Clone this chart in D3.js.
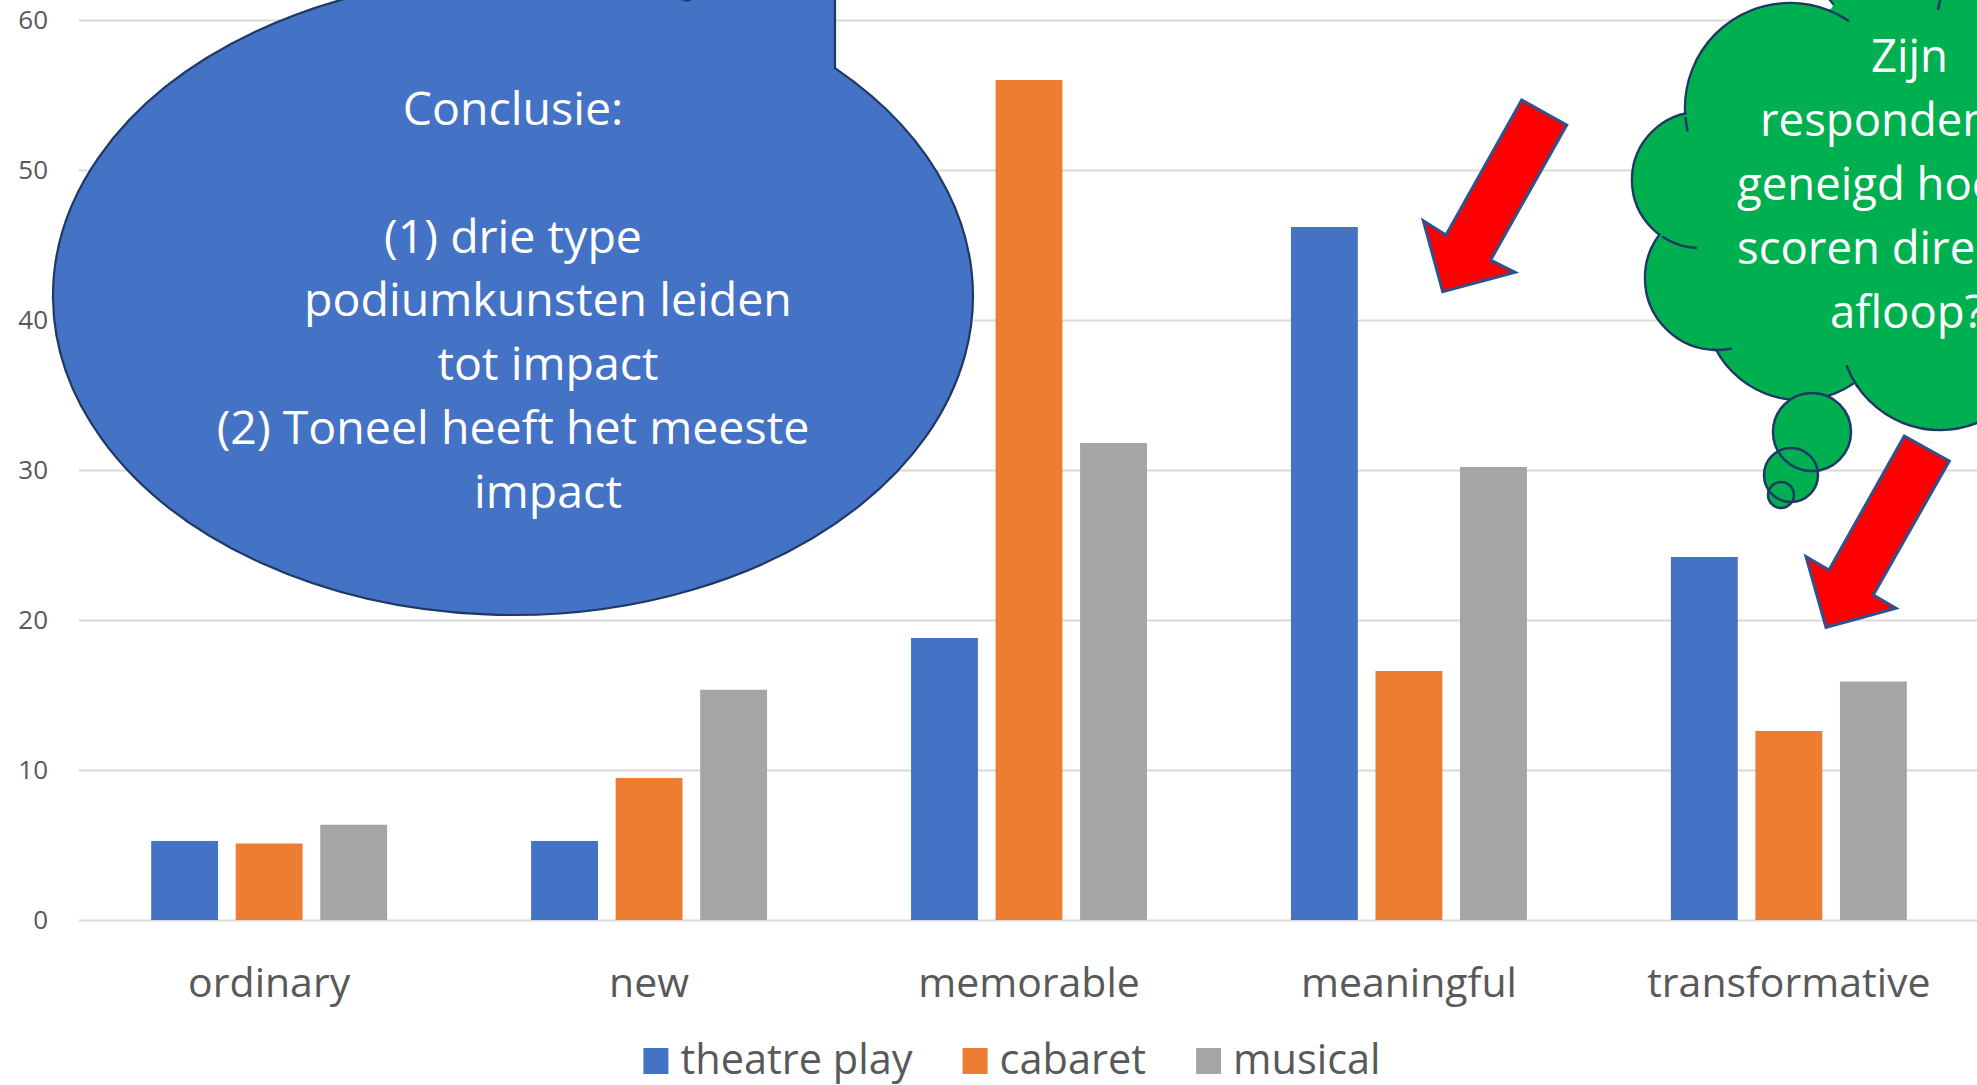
<!DOCTYPE html>
<html><head><meta charset="utf-8">
<script src="https://cdn.jsdelivr.net/npm/d3@7"></script>
<style>html,body{margin:0;padding:0;background:#fff;overflow:hidden}</style>
</head><body>
<svg id="chart" width="1977" height="1085"></svg>
<script>
// ---- data ----
const categories = ["ordinary", "new", "memorable", "meaningful", "transformative"];
const seriesNames = ["theatre play", "cabaret", "musical"];
const theatrePlay = [5.27, 5.27, 18.8, 46.2, 24.2];
const cabaret = [5.1, 9.47, 56.0, 16.6, 12.6];
const musical = [6.35, 15.35, 31.8, 30.2, 15.9];
const yTicks = [0, 10, 20, 30, 40, 50, 60];
const calloutLines = ["Conclusie:", "", "(1) drie type", "podiumkunsten leiden", "tot impact", "(2) Toneel heeft het meeste", "impact"];
const cloudLines = ["Zijn", "respondenten", "geneigd hoog te", "scoren direct na", "afloop?"];

const seriesValues = [theatrePlay, cabaret, musical];
const FONT = "'Open Sans', 'Noto Sans', sans-serif";
const TXT = "#595959";

const svg = d3.select("#chart");
const plotL = 79, plotR = 1979, y0 = 920, yTop = 20;

const x0 = d3.scaleBand().domain(categories).range([plotL, plotR]).paddingInner(0.379).paddingOuter(0.19);
const x1 = d3.scaleBand().domain(seriesNames).range([0, x0.bandwidth()]).paddingInner(0.209);
const y = d3.scaleLinear().domain([0, 60]).range([y0, yTop]);
const color = d3.scaleOrdinal().domain(seriesNames).range(["#4472C4", "#ED7D31", "#A5A5A5"]);

// ---- y axis + gridlines ----
const yAxis = svg.append("g").attr("transform", `translate(${plotL},0)`)
  .call(d3.axisLeft(y).tickValues(yTicks).tickSize(-(plotR - plotL)).tickPadding(31));
yAxis.select(".domain").remove();
yAxis.selectAll("line").attr("stroke", "#D9D9D9").attr("stroke-width", 2);
yAxis.selectAll("text").attr("fill", TXT).attr("font-family", FONT).attr("font-size", 26);

// ---- bars ----
const rows = categories.map((c, i) => ({ cat: c, vals: seriesNames.map((s, j) => ({ s, v: seriesValues[j][i] })) }));
svg.append("g").selectAll("g").data(rows).join("g")
  .attr("transform", d => `translate(${x0(d.cat)},0)`)
  .selectAll("rect").data(d => d.vals).join("rect")
  .attr("x", d => x1(d.s)).attr("width", x1.bandwidth())
  .attr("y", d => y(d.v)).attr("height", d => y(0) - y(d.v))
  .attr("fill", d => color(d.s));

// ---- category axis ----
const xAxis = svg.append("g").attr("transform", `translate(0,${y0})`)
  .call(d3.axisBottom(x0).tickSize(0));
xAxis.select(".domain").remove();
xAxis.selectAll("text").attr("y", 77).attr("dy", 0)
  .attr("fill", TXT).attr("font-family", FONT).attr("font-size", 41);

// ---- legend ----
const legend = svg.append("g");
let lx = 0;
seriesNames.forEach(s => {
  const g = legend.append("g").attr("transform", `translate(${lx},0)`);
  g.append("rect").attr("x", 0).attr("y", 1048).attr("width", 25).attr("height", 26).attr("fill", color(s));
  const t = g.append("text").attr("x", 37).attr("y", 1074).attr("fill", TXT)
    .attr("font-family", FONT).attr("font-size", 41.5).text(s);
  lx += 37 + t.node().getComputedTextLength() + 50;
});
const legW = lx - 50;
legend.attr("transform", `translate(${1012 - legW / 2},0)`);

// ---- speech-bubble callout ----
const ecx = 513, ecy = 296, erx = 460, ery = 319;
const eY = xx => ecy - ery * Math.sqrt(1 - ((xx - ecx) / erx) ** 2);
const p1 = [687, eY(687)], p2 = [835, eY(835)], tip = [835, -50];
svg.append("path")
  .attr("d", `M${p2[0]},${p2[1]} A${erx},${ery} 0 1 1 ${p1[0]},${p1[1]} L${tip[0]},${tip[1]} Z`)
  .attr("fill", "#4472C4").attr("stroke", "#1F3864").attr("stroke-width", 2.2);
const cx = [513, null, 513, 548, 548, 513, 548];
calloutLines.forEach((line, i) => {
  if (!line) return;
  svg.append("text").attr("x", cx[i]).attr("y", 125 + i * 63.8)
    .attr("text-anchor", "middle").attr("fill", "#fff")
    .attr("font-family", FONT).attr("font-size", 46.5).text(line);
});

// ---- red arrows ----
const arrows = [
  [[1521.7, 100], [1566.7, 125], [1490.7, 260], [1515, 272.3], [1442.7, 291.7], [1423.3, 220.7], [1446, 235]],
  [[1904.3, 436], [1949.3, 461], [1873.3, 595], [1896, 608.3], [1826, 627.3], [1806, 556.7], [1829, 570]]
];
svg.append("g").selectAll("path").data(arrows).join("path")
  .attr("d", d => "M" + d.map(p => p.join(",")).join("L") + "Z")
  .attr("fill", "#FF0000").attr("stroke", "#2F528F").attr("stroke-width", 3).attr("stroke-linejoin", "miter");

// ---- thought cloud ----
const CG = "#00B050", CS = "#1F3864";
const bumps = [
  { cx: 1910, cy: -60, r: 100 }, { cx: 1790, cy: 108, r: 105 }, { cx: 1700, cy: 180, r: 68 },
  { cx: 1717, cy: 278, r: 72 }, { cx: 1800, cy: 305, r: 95 }, { cx: 1940, cy: 330, r: 100 }
];
const cloud = svg.append("g");
cloud.selectAll("circle.s").data(bumps).join("circle").attr("class", "s")
  .attr("cx", d => d.cx).attr("cy", d => d.cy).attr("r", d => d.r)
  .attr("fill", CG).attr("stroke", CS).attr("stroke-width", 2.5);
cloud.append("path")
  .attr("d", "M1827,15L1685,117L1663,235L1712,343L1860,385L1990,425L1990,-5L1840,-5Z")
  .attr("fill", CG);
cloud.selectAll("circle.f").data(bumps).join("circle").attr("class", "f")
  .attr("cx", d => d.cx).attr("cy", d => d.cy).attr("r", d => d.r - 1.3).attr("fill", CG);
// small inner arcs of the cloud outline
const tails = [[1, [1827, 15], [1843, 30]], [1, [1685, 117], [1690, 131]], [2, [1663, 235], [1697, 245]],
  [3, [1712, 343], [1730, 340]], [5, [1860, 385], [1850, 364]]];
tails.forEach(([bi, a, b]) => {
  const c = bumps[bi];
  const a0 = Math.atan2(a[1] - c.cy, a[0] - c.cx), a1 = Math.atan2(b[1] - c.cy, b[0] - c.cx);
  let d = a1 - a0; while (d > Math.PI) d -= 2 * Math.PI; while (d < -Math.PI) d += 2 * Math.PI;
  const p = d3.path(); p.arc(c.cx, c.cy, c.r, a0, a0 + d, d < 0);
  cloud.append("path").attr("d", p.toString()).attr("fill", "none").attr("stroke", CS).attr("stroke-width", 2.5);
});
cloud.append("path").attr("d", "M1938,10Q1939,3 1942,-5").attr("fill", "none").attr("stroke", CS).attr("stroke-width", 2.5);

const cloudX = [1871, 1760, 1737, 1737, 1830];
cloudLines.forEach((line, i) => {
  svg.append("text").attr("x", cloudX[i]).attr("y", 72 + i * 64)
    .attr("fill", "#fff").attr("font-family", FONT).attr("font-size", 45.5).text(line);
});

// small thought bubbles
const dots = [{ cx: 1812, cy: 432, r: 39 }, { cx: 1791, cy: 475, r: 27 }, { cx: 1781, cy: 495, r: 13 }];
svg.append("g").selectAll("circle").data(dots).join("circle")
  .attr("cx", d => d.cx).attr("cy", d => d.cy).attr("r", d => d.r).attr("fill", CG);
svg.append("g").selectAll("circle").data(dots).join("circle")
  .attr("cx", d => d.cx).attr("cy", d => d.cy).attr("r", d => d.r)
  .attr("fill", "none").attr("stroke", CS).attr("stroke-width", 2.5);
</script>
</body></html>
